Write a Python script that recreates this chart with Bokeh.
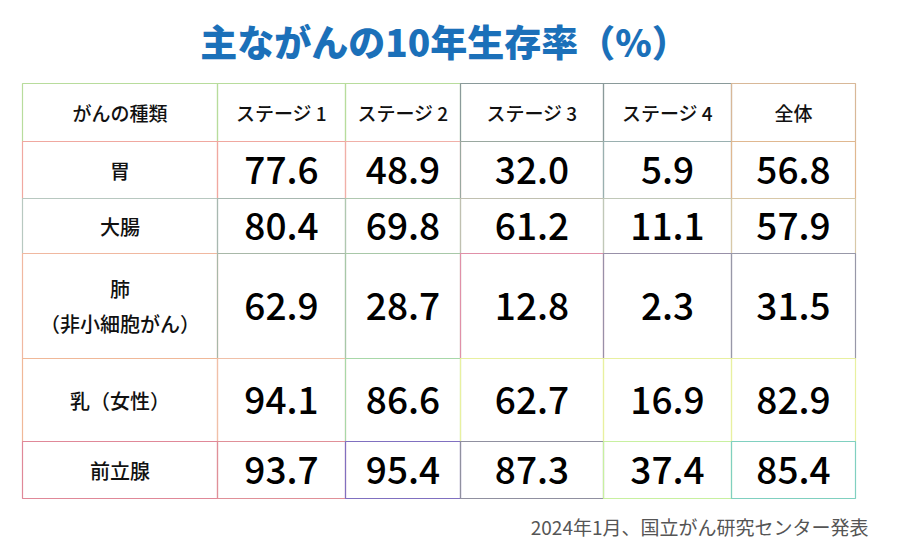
from bokeh.plotting import figure
from bokeh.models import Range1d
from bokeh.core.properties import value
from bokeh.embed import file_html
from bokeh.resources import INLINE

# ---- data ----
title = "主ながんの10年生存率（%）"
source_note = "2024年1月、国立がん研究センター発表"
headers = ["がんの種類", "ステージ 1", "ステージ 2", "ステージ 3", "ステージ 4", "全体"]
cancers = ["胃", "大腸", "肺\n（非小細胞がん）", "乳（女性）", "前立腺"]
stage1 = [77.6, 80.4, 62.9, 94.1, 93.7]
stage2 = [48.9, 69.8, 28.7, 86.6, 95.4]
stage3 = [32.0, 61.2, 12.8, 62.7, 87.3]
stage4 = [5.9, 11.1, 2.3, 16.9, 37.4]
overall = [56.8, 57.9, 31.5, 82.9, 85.4]

# ---- layout (page pixel coordinates) ----
col_edges = [22, 217, 345, 460, 603, 731, 855]
row_edges = [83, 141, 198, 253, 358, 441, 498]
border_colors = [
    ["#b8dc9c", "#b8dc9c", "#b8dc9c", "#8a9a9a", "#8a9a9a", "#d8b898"],
    ["#f0a8a0", "#f0a8a0", "#f0b0a8", "#9aa8a0", "#9ab0b0", "#e0b890"],
    ["#b8c8c0", "#a8b8b0", "#b0c8b0", "#c0c0b0", "#c0c8b8", "#d8c8a8"],
    ["#f0b8a0", "#a8b8a8", "#a8c8a8", "#e090a8", "#9890a8", "#9898a8"],
    ["#f0b898", "#f0c0a8", "#a8d8a8", "#e8f0a0", "#e8f0a0", "#e8f0a0"],
    ["#e08898", "#e09098", "#8070c0", "#9090a0", "#c8f0a0", "#80d0c0"],
]

FONT = "Noto Sans CJK JP"
MED = "'Noto Sans CJK JP Medium', 'Noto Sans CJK JP'"
BLACK = "'Noto Sans CJK JP Black', 'Noto Sans CJK JP'"
W, H = 881, 543

p = figure(width=W, height=H, output_backend="svg", toolbar_location=None,
           x_range=Range1d(0, W), y_range=Range1d(H, 0),
           min_border=0)
p.axis.visible = False
p.grid.visible = False
p.outline_line_color = None
p.background_fill_color = "white"
p.border_fill_color = "white"

# cell borders
L, R, T, B, C = [], [], [], [], []
for ri in range(len(row_edges) - 1):
    for ci in range(len(col_edges) - 1):
        L.append(col_edges[ci]); R.append(col_edges[ci + 1])
        T.append(row_edges[ri]); B.append(row_edges[ri + 1])
        C.append(border_colors[ri][ci])
p.quad(left=L, right=R, top=T, bottom=B, fill_color=None, line_color=C, line_width=1.2)

col_centers = [(col_edges[i] + col_edges[i + 1]) / 2 for i in range(len(col_edges) - 1)]
row_centers = [(row_edges[i] + row_edges[i + 1]) / 2 for i in range(len(row_edges) - 1)]

# header
p.text(x=col_centers, y=[row_centers[0]] * 6, text=headers, text_font=value(MED),
       text_font_size="19px", text_align="center", text_baseline="middle",
       text_color="#111111")

# row labels
p.text(x=[col_centers[0]] * len(cancers), y=row_centers[1:], text=cancers,
       text_font=value(MED), text_font_size="20px", text_align="center",
       text_baseline="middle", text_color="#111111", text_line_height=1.2)

# values
series = [stage1, stage2, stage3, stage4, overall]
xs, ys, ts = [], [], []
for si, s in enumerate(series):
    for ri, v in enumerate(s):
        xs.append(col_centers[si + 1]); ys.append(row_centers[ri + 1]); ts.append(f"{v:.1f}")
p.text(x=xs, y=ys, text=ts, text_font=value(MED), text_font_size="37px",
       text_align="center", text_baseline="middle", text_color="#000000")

# title
p.text(x=[444], y=[40], text=[title], text_font=value(BLACK), text_font_size="37px",
       text_align="center", text_baseline="middle", text_color="#1b70b9")

# source
p.text(x=[868], y=[526], text=[source_note], text_font=value(FONT), text_font_size="19px",
       text_align="right", text_baseline="middle", text_color="#555555")

open("out.html", "w").write(file_html(p, INLINE))
